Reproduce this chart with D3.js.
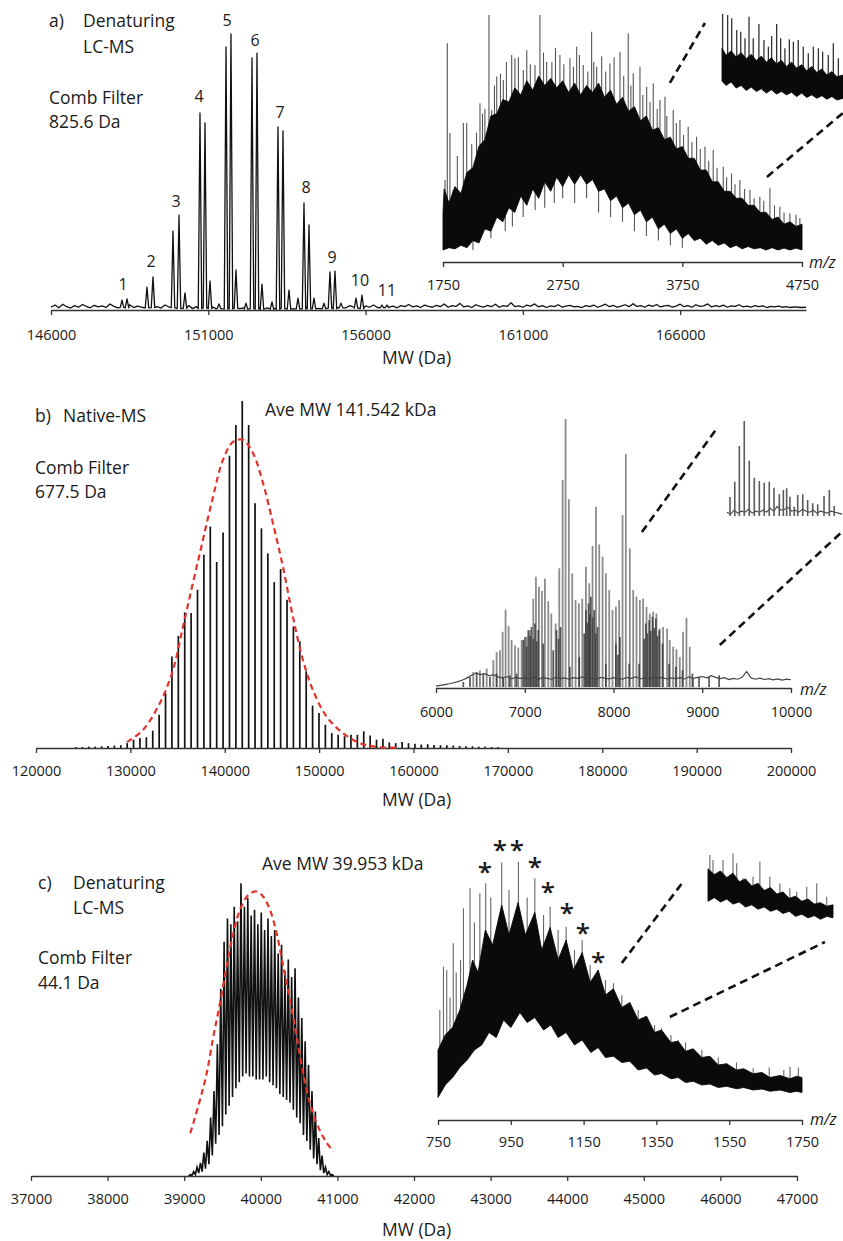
<!DOCTYPE html>
<html><head><meta charset="utf-8">
<script src="https://cdn.jsdelivr.net/npm/d3@7"></script>
<style>
body{margin:0;background:#fff;}
text{font-family:"Open Sans",sans-serif;fill:#1a1a1a;}
</style></head><body>
<script>
// ---------------- DATA ----------------
// Panel a (denaturing LC-MS, deconvoluted)
const aTicks=[146000,151000,156000,161000,166000];
const aNoiseStart=146000, aNoiseStep=125;
const aNoise=[1.0,1.8,0.8,2.1,1.2,0.7,1.6,1.0,2.0,1.3,
0.8,1.7,1.1,1.5,0.9,2.2,1.3,0.8,1.6,1.1,
1.9,0.9,1.4,1.0,1.7,0.8,1.5,1.2,0.7,1.8,
1.1,1.4,0.6,1.3,0.9,1.6,0.5,1.2,0.8,1.4,
0.6,1.1,0.5,1.0,0.4,0.9,0.6,1.2,0.5,0.8,
0.4,0.9,0.5,0.7,0.3,0.8,0.5,0.6,0.4,0.9,
0.5,0.7,0.4,0.8,0.5,1.0,0.4,0.7,0.6,0.9,
0.5,1.1,0.7,0.9,1.4,0.8,1.6,1.0,1.3,0.8,
1.5,1.0,1.8,0.9,1.3,1.7,1.0,1.4,0.8,1.6,
1.2,2.0,1.1,1.5,0.9,1.8,1.3,1.0,1.7,1.2,
2.2,1.0,1.6,1.3,2.4,1.1,1.5,0.9,1.9,1.4,
1.0,1.7,1.2,2.1,1.0,1.6,1.3,2.6,1.2,1.5,
1.0,1.8,1.4,2.2,1.1,1.6,0.9,1.5,1.2,1.9,
1.0,1.4,1.7,1.1,1.3,0.9,1.6,1.2,1.8,1.0,
1.5,2.1,1.2,1.7,1.0,1.4,1.9,1.2,2.3,1.3,
1.6,1.0,1.8,1.3,2.0,1.1,1.5,1.7,1.0,1.4,
2.1,1.2,1.6,1.0,1.9,1.3,1.5,2.2,1.1,1.6,
1.2,1.8,1.0,1.5,1.3,1.9,1.1,1.4,1.0,1.6,
1.2,1.5,0.9,1.3,1.1,1.4,1.0,1.2,0.9,1.1,
1.0,0.9,1.0];
const aPeaks=[[148257,3.6],[148416,4],[149051,8.3],[149242,12],[149878,28.6],[150069,34.4],[150259,6.2],
[150736,71.4],[150895,67.8],[151054,10.5],[151340,2.2],[151563,95.3],[151721,100],[151880,14.5],[152198,2.5],
[152389,91.3],[152548,93.1],[152707,9.4],[153025,2.9],[153215,66.3],[153374,64.9],[153565,7.2],[153851,4.3],
[154042,38.8],[154201,30.8],[154360,4.3],[154678,2.5],[154868,13.8],[155027,14.1],[155218,2.5],
[155695,4.3],[155885,5.4],[156521,1.8],[156680,1.8]];
const aLabels=[["1",148289,7.2],["2",149179,15.6],["3",149973,37.3],["4",150704,75.4],["5",151594,102.9],
["6",152484,95.7],["7",153279,69.6],["8",154105,42.4],["9",154932,17],["10",155822,8.7],["11",156680,5.1]];
// Panel a inset (raw m/z spectrum)
const aInsetTicks=[1750,2750,3750,4750];
const aInsetUpper=[[1750,16],[1760,26],[1800,20],[1850,27],[1900,24],[1950,33],[2000,35],[2050,44],[2100,47],
[2150,57],[2200,58],[2250,64],[2300,63],[2350,69],[2400,66],[2450,72],[2500,68],[2550,74],[2600,70],[2650,73],
[2700,69],[2750,72],[2800,67],[2850,71],[2900,66],[2950,70],[3000,67],[3050,71],[3100,65],[3150,68],[3200,62],
[3250,65],[3300,59],[3350,61],[3400,55],[3450,57],[3500,51],[3550,52],[3600,47],[3650,48],[3700,43],[3750,44],
[3800,39],[3850,39],[3900,34],[3950,34],[4000,29],[4050,29],[4100,25],[4150,25],[4200,22],[4250,22],[4300,19],
[4350,19],[4400,16],[4450,16],[4500,13],[4550,14],[4600,11],[4650,12],[4700,10],[4750,11]];
const aInsetLower=[[1750,0],[1800,1],[1850,0.5],[1900,2],[1950,1],[2000,4],[2050,3],[2100,9],[2150,8],[2200,14],
[2250,12],[2300,18],[2350,16],[2400,23],[2450,19],[2500,26],[2550,22],[2600,29],[2650,25],[2700,31],[2750,27],
[2800,32],[2850,28],[2900,32],[2950,28],[3000,30],[3050,25],[3100,26],[3150,21],[3200,23],[3250,18],[3300,20],
[3350,15],[3400,17],[3450,12],[3500,14],[3550,9],[3600,11],[3650,7],[3700,9],[3750,5],[3800,7],[3850,4],
[3900,5],[3950,2.5],[4000,4],[4050,2],[4100,3],[4150,1],[4200,2],[4250,0.5],[4300,1.5],[4350,0.5],[4400,1],
[4450,0],[4500,1],[4550,0],[4600,0.8],[4650,0],[4700,0.8],[4750,0]];
const aInsetSpikes=[[1767,29.8],[1786,88],[1808,49.8],[1836,25.5],[1870,40],[1920,54],[1948,54],[1990,45],[2030,50],
[2059,62.5],[2080,58],[2100,60],[2134,100],[2157,59.6],[2180,70],[2199,73.8],[2230,75],[2254,72.3],[2280,80],
[2324,83],[2351,81.6],[2380,82],[2421,76.6],[2450,85],[2480,79],[2519,78.7],[2560,100],[2590,84],[2616,80.1],
[2660,80],[2690,86],[2727,83],[2760,79],[2811,81.6],[2840,78],[2867,86.5],[2890,83],[2922,78.7],[2960,76],
[2992,92.9],[3010,80],[3034,78],[3076,82.3],[3110,76],[3145,79.4],[3180,82],[3229,84.4],[3260,74],[3298,92.2],
[3320,70],[3340,75.2],[3396,78],[3420,66],[3452,69.5],[3480,63],[3507,70.9],[3540,60],[3563,63.8],[3605,65.2],
[3620,57],[3674,59.6],[3700,54],[3730,55.3],[3760,49],[3799,52.5],[3830,46],[3869,48.2],[3900,43],[3939,44],
[3970,38],[4008,42.6],[4040,35],[4092,35.4],[4120,31],[4161,32.6],[4190,28],[4231,29.8],[4270,26],[4315,25.5],
[4350,22],[4398,22.7],[4430,21],[4482,26.3],[4520,19],[4565,18.4],[4600,16],[4649,15.6],[4700,15],[4732,13.5]];
const aInsetDips=[[2000,0],[2150,5],[2270,8],[2330,10],[2420,14],[2520,17],[2600,18],[2680,20],[2750,22],
[2850,20],[2950,22],[3050,16],[3150,14],[3250,12],[3350,8],[3450,6],[3550,4],[3650,2],[3750,1]];
const aZoomLines=[[[3646,71.1],[3939,96.6]],[[4457,31.1],[5092,58.3]]];
// Panel a sub-inset (magnified region)
const aSubDomain=[3700,4300];
const aSubUpper=[[3700,60],[3720,52],[3745,57],[3770,50],[3795,55],[3820,48],[3845,53],[3870,46],[3895,51],[3920,44],
[3945,49],[3970,42],[3995,46],[4020,39],[4045,44],[4070,37],[4095,41],[4120,34],[4145,39],[4170,32],[4195,36],
[4220,29],[4245,33],[4270,27],[4300,29]];
const aSubLower=[[3700,22],[3720,17],[3745,21],[3770,14],[3795,17],[3820,11],[3845,15],[3870,10],[3895,13],[3920,8],
[3945,12],[3970,7],[3995,10],[4020,6],[4045,9],[4070,4],[4095,8],[4120,3],[4145,6],[4170,2],[4195,5],[4220,1],
[4245,4],[4270,0],[4300,2]];
const aSubSpikes=[[3703,100],[3728,98.8],[3748,95],[3773,81.4],[3793,79.5],[3814,71.7],[3834,96.9],[3855,71.7],
[3883,88.4],[3908,69.8],[3930,62],[3946,74.4],[3971,88.4],[3991,71.7],[4012,60.1],[4034,70.5],[4054,67.8],
[4078,69.8],[4103,62],[4128,54.3],[4153,62],[4178,60.1],[4199,56.2],[4227,52.3],[4252,65.9],[4277,48.5]];

// Panel b (native MS)
const bTicks=[120000,130000,140000,150000,160000,170000,180000,190000,200000];
const bSpikes=[[124240,0.3],[124918,0.3],[125595,0.4],[126273,0.4],[126950,0.5],[127628,0.6],[128305,0.7],
[128983,0.8],[129660,1.4],[130338,2.4],[131015,2.9],[131693,3.1],[132370,5.0],[133048,9.6],[133725,15.8],
[134403,26.4],[135080,32.3],[135758,39.1],[136435,38.9],[137113,45.6],[137790,55.7],[138468,63.8],[139145,53.6],
[139823,62.1],[140500,84.2],[141178,93.1],[141855,100],[142533,93.1],[143210,70.5],[143888,63.3],[144565,56.1],
[145243,47.8],[145920,51.6],[146598,42.7],[147275,35.0],[147953,30.7],[148630,22.1],[149308,12.2],[149985,10.1],
[150663,6.7],[151340,4.3],[152018,3.8],[152695,3.4],[153373,3.8],[154050,3.8],[154728,4.8],[155405,3.6],
[156083,2.4],[156760,2.7],[157438,1.6],[158115,1.4],[158793,1.7],[159470,1.4],[160148,1.2],[160825,1.0],
[161503,1.1],[162180,0.9],[162858,0.8],[163535,0.8],[164213,0.7],[164890,0.6],[165568,0.5],[166245,0.5],
[166923,0.4],[167600,0.4],[168278,0.3],[168955,0.3]];
const bFit=[[129640,1.7],[131335,5.2],[133136,13.0],[134513,22.5],[135572,34.9],[136631,47.6],[137691,60.0],
[138750,72.3],[139809,83.0],[140869,88.2],[141928,88.8],[142987,85.0],[144047,76.4],[145106,64.8],[146165,52.2],
[147225,37.8],[148284,25.4],[149343,16.7],[150826,8.9],[152521,4.3],[154322,1.4],[156123,0.3],[158560,0.1]];
// Panel b inset
const bInsetTicks=[6000,7000,8000,9000,10000];
const bNoiseStart=6000, bNoiseStep=50;
const bNoise=[0.3,0.6,0.9,1.2,1.6,2.0,2.6,3.4,4.4,5.2,
4.6,5.0,4.2,4.6,3.8,3.4,3.9,3.0,3.6,3.2,
3.4,3.0,3.8,2.8,3.5,3.2,2.9,3.6,3.1,3.4,
2.9,3.5,3.2,3.8,3.0,3.4,2.8,3.6,3.3,3.0,
3.5,3.1,2.9,3.6,3.2,3.8,3.0,3.4,3.1,3.7,
3.2,3.6,3.0,3.4,3.1,3.5,3.0,3.8,3.2,3.6,
3.9,3.4,4.2,3.6,3.1,3.5,2.8,3.2,2.9,3.6,
5.8,3.4,2.9,3.3,2.8,3.1,2.7,3.0,2.6,2.9,2.7];
const bLight=[[6420,5.6],[6495,6.2],[6571,6.9],[6646,10],[6683,13],[6721,13.7],[6751,20.6],[6784,28.9],[6818,22.7],
[6852,17.5],[6890,15.6],[6927,14.7],[6965,17.5],[7021,18.7],[7058,21.2],[7096,33],[7126,41.1],[7160,37.4],
[7194,35.8],[7227,40.5],[7265,32],[7299,27.4],[7348,23.7],[7389,44.3],[7427,77.3],[7460,100],[7497,70.1],
[7535,42.4],[7573,32.4],[7610,31.2],[7648,33],[7689,44.9],[7727,38.7],[7764,52.6],[7802,67.3],[7839,53.2],
[7877,48.6],[7914,42.4],[7952,36.2],[7989,28.7],[8027,30],[8064,32.4],[8102,64.2],[8139,86.9],[8184,51.7],
[8222,36.2],[8259,33.7],[8297,32.4],[8334,33],[8372,29.9],[8409,27.4],[8447,28.1],[8484,27.4],[8522,21.8],
[8559,22.4],[8604,21.8],[8634,17.5],[8672,15],[8709,14.1],[8747,11.2],[8784,20.6],[8822,25.8],[8859,15],[8897,3]];
const bDark=[[6308,1.9],[6383,3.7],[6458,5.6],[6533,5],[6608,3.7],[6683,5],[6758,3.7],[6833,4.4],[6908,5],
[6983,17.5],[7002,18.7],[7021,15],[7040,21.2],[7060,19],[7077,22.4],[7096,18],[7115,23.7],[7135,17],[7152,21.2],
[7208,16.2],[7321,13.7],[7358,21.2],[7380,18],[7403,22.4],[7508,7.5],[7614,11.2],[7670,20],[7689,28.7],
[7705,24],[7719,31.2],[7732,27],[7745,33.7],[7765,26],[7783,28.7],[7800,20],[7820,22.4],[7914,8.7],
[8027,16.2],[8050,12],[8072,18.7],[8177,8.7],[8289,8.7],[8345,18],[8364,23.7],[8383,20],[8402,24.9],[8420,21],
[8439,26.2],[8458,22],[8477,25.6],[8495,19],[8514,21.2],[8552,16.2],[8627,8.7],[8702,7.5],[8777,6.2],[8889,5],
[8964,3.7],[9077,3.7],[9190,4.4]];
const bZoomLines=[[[8320,57.8],[9176,97]],[[9198,15.7],[10572,57.8]]];
// Panel b sub-inset
const bSubDomain=[9100,9900];
const bSubSpikes=[[9121,21.6],[9154,37.4],[9186,74.2],[9220,100],[9255,59.1],[9290,41.5],[9325,38.1],[9359,36.4],
[9394,37.4],[9427,31.2],[9464,24.7],[9492,28.9],[9515,30.6],[9538,22],[9568,11.6],[9592,23.7],[9627,24.4],
[9661,18.6],[9696,15.2],[9731,14.1],[9775,22.7],[9812,28.9],[9846,12.4]];
const bSubNoiseStart=9100, bSubNoiseStep=25;
const bSubNoise=[6,4,8,5,7,6,9,5,7,6,8,6,10,7,12,8,9,11,7,8,6,9,7,6,8,5,7,6,5,7,6,5,4];

// Panel c (denaturing LC-MS, 40 kDa)
const cTicks=[37000,38000,39000,40000,41000,42000,43000,44000,45000,46000,47000];
const cCombMW=[39080,39124,39168,39212,39256,39300,39345,39389,39433,39477,39521,39565,39609,39653,39697,
39741,39786,39830,39874,39918,39962,40006,40050,40094,40138,40182,40227,40271,40315,40359,40403,40447,40491,
40535,40579,40623,40668,40712,40756,40800,40844,40888,40932];
const cCombTop=[0.5,1.5,3,4.5,8,12,20,29,45,64,80,88,86,92,87,100,92,95,89,91,86,90,84,88,82,84,76,79,70,74,
68,71,61,54,46,38,29,22,13,7,3,1.5,0.5];
const cValley=[0.2,0.5,1,1.5,2.5,4,7,11,14,17,21,24,27,30,32,34,35,34,34,33,33,33,34,32,31,30,28,27,26,25,
22.6,20,18,14,12,9,6,4,2,1,0.5,0.2];
const cFit=[[39080,14.6],[39206,26],[39293,35],[39380,47.6],[39467,59],[39554,71.5],[39641,82.9],[39728,90.9],
[39837,96],[39946,97.2],[40033,95.4],[40120,90.9],[40207,82.9],[40294,71.5],[40381,60.1],[40468,47.6],
[40555,35],[40642,24.8],[40729,18],[40838,12.3],[40947,8.3]];
// Panel c inset
const cInsetTicks=[750,950,1150,1350,1550,1750];
const cInsetUpper=[[750,24],[770,30],[790,33],[810,40],[830,50],[845,60],[860,55],[880,72],[900,66],[925,82],
[945,70],[970,83],[990,70],[1016,79],[1035,64],[1058,73],[1080,60],[1102,68],[1122,56],[1146,63],[1168,51],
[1190,56],[1210,46],[1232,48.5],[1255,41],[1277,43],[1300,36],[1323,37.5],[1345,31],[1364,32],[1390,27],
[1410,27.5],[1430,23.5],[1451,24.5],[1475,21],[1497,21.5],[1520,18],[1543,18.5],[1570,16],[1590,16.5],
[1616,14.5],[1640,15],[1662,13],[1690,13.8],[1717,12.5],[1735,13.5],[1750,13]];
const cInsetLower=[[750,5],[770,10],[790,13],[810,17],[830,20],[850,24],[870,26],[890,31],[910,29],[930,36],
[950,33],[975,39],[995,35],[1016,37],[1040,32],[1060,34],[1080,29],[1102,31],[1125,26],[1146,28],[1170,23],
[1190,25],[1210,21],[1232,21.5],[1255,19],[1277,19.5],[1300,16],[1323,16.8],[1345,14],[1364,14.6],[1390,12.5],
[1410,13],[1430,11],[1451,11.5],[1475,10],[1497,10.4],[1520,9],[1543,9.5],[1570,8.5],[1590,9],[1616,8],[1640,8.4],
[1662,7.5],[1690,8],[1717,7],[1735,7.5],[1750,7]];
const cInsetSpikes=[[755,40],[765,57.3],[774,56],[783,45],[792,66.7],[800,55],[812,60],[820,80.7],[838,88.7],
[850,75],[865,86.7],[881,90.7],[895,85],[925,99],[945,88],[971,99.3],[995,85],[1016,92.7],[1040,78],[1058,81.3],
[1080,72],[1102,73.3],[1125,64],[1146,68],[1168,58],[1190,54.7],[1210,52],[1232,50.7],[1255,46],[1277,42.7],
[1300,40],[1323,37.3],[1345,34],[1364,32.7],[1390,30],[1410,28],[1430,27],[1451,24],[1475,24],[1497,21.3],
[1520,21],[1543,18.7],[1570,19],[1616,16.7],[1660,17],[1700,16],[1717,17.3],[1740,17]];
const cStars=[[879,97.2],[920,106],[967,106],[1016,99.2],[1052,89.2],[1104,80.8],[1148,72.8],[1190,61.2]];
const cZoomLines=[[[1255,58.8],[1423,91.2]],[[1387,37.2],[1813,67.2]]];
// Panel c sub-inset
const cSubDomain=[1250,1450];
const cSubUpper=[[1250,78],[1260,70],[1270,75],[1280,66],[1290,72],[1300,60],[1310,64],[1320,54],[1330,58],[1340,48],
[1350,52],[1360,43],[1370,46],[1380,37],[1390,40],[1400,33],[1410,36],[1420,29],[1430,31],[1440,26],[1450,28]];
const cSubLower=[[1250,33],[1260,38],[1270,32],[1280,36],[1290,29],[1300,32],[1310,25],[1320,28],[1330,22],[1340,25],
[1350,19],[1360,22],[1370,16],[1380,19],[1390,12],[1400,15],[1410,10],[1420,13],[1430,8],[1440,12],[1450,10]];
const cSubSpikes=[[1253,97.2],[1258,90.3],[1274,90.3],[1290,99.6],[1296,85.7],[1306,64.9],[1322,67.1],[1333,87.9],
[1349,67.1],[1365,57.9],[1381,51],[1392,46.3],[1408,53.2],[1424,57.9],[1440,39.3]];

// ---------------- DRAWING ----------------
const svg=d3.select("body").append("svg").attr("width",843).attr("height",1241);
svg.append("rect").attr("width",843).attr("height",1241).attr("fill","#fff");

function interp(arr,x){
  const i=d3.bisector(d=>d[0]).left(arr,x);
  if(i<=0) return arr[0][1];
  if(i>=arr.length) return arr[arr.length-1][1];
  const a=arr[i-1],b=arr[i];
  return a[1]+(x-a[0])/(b[0]-a[0])*(b[1]-a[1]);
}
function axis(scale,ticks,y,pad){
  const ax=d3.axisBottom(scale).tickValues(ticks).tickSize(5).tickSizeOuter(0).tickPadding(pad).tickFormat(d=>String(d));
  const a=svg.append("g").attr("transform",`translate(0,${y})`).call(ax);
  a.select(".domain").attr("stroke","#333").attr("stroke-width",1.3);
  a.selectAll(".tick line").attr("stroke","#333").attr("stroke-width",1.3);
  a.selectAll(".tick text").attr("font-size",14.5).attr("fill","#1a1a1a");
  return a;
}
function txt(x,y,s,size,opts={}){
  const t=svg.append("text").attr("x",x).attr("y",y).attr("font-size",size).text(s);
  if(opts.anchor) t.attr("text-anchor",opts.anchor);
  if(opts.italic) t.attr("font-style","italic");
  if(opts.weight) t.attr("font-weight",opts.weight);
  return t;
}
const line=d3.line();
function dense(xs,ys,upper,lower,spikes,spColor,spW,dips){
  const pts=upper.map(d=>[xs(d[0]),ys(d[1])]).concat(lower.slice().reverse().map(d=>[xs(d[0]),ys(d[1])]));
  svg.append("g").selectAll("line").data(spikes).join("line")
    .attr("x1",d=>xs(d[0])).attr("x2",d=>xs(d[0]))
    .attr("y1",d=>ys(interp(upper,d[0]))+2).attr("y2",d=>ys(d[1]))
    .attr("stroke",spColor).attr("stroke-width",spW);
  if(dips) svg.append("g").selectAll("line").data(dips).join("line")
    .attr("x1",d=>xs(d[0])).attr("x2",d=>xs(d[0]))
    .attr("y1",d=>ys(interp(lower,d[0]))-2).attr("y2",d=>ys(d[1]))
    .attr("stroke",spColor).attr("stroke-width",spW);
  svg.append("path").attr("d",line(pts)+"Z").attr("fill","#0a0a0a").attr("stroke","#0a0a0a").attr("stroke-width",0.9).attr("stroke-linejoin","miter");
}
function zoomLines(xs,ys,lines){
  svg.append("g").selectAll("line").data(lines).join("line")
    .attr("x1",d=>xs(d[0][0])).attr("y1",d=>ys(d[0][1]))
    .attr("x2",d=>xs(d[1][0])).attr("y2",d=>ys(d[1][1]))
    .attr("stroke","#111").attr("stroke-width",2.6).attr("stroke-dasharray","8,5");
}
function fit(xs,ys,pts){
  svg.append("path").attr("d",d3.line().curve(d3.curveCatmullRom).x(d=>xs(d[0])).y(d=>ys(d[1]))(pts))
    .attr("fill","none").attr("stroke","#e3342b").attr("stroke-width",2.2).attr("stroke-dasharray","6,4");
}

// ===== Panel a main =====
{
  const x=d3.scaleLinear().domain([146000,170000]).range([51,806]);
  const y=d3.scaleLinear().domain([0,100]).range([310,34]);
  const noisePts=aNoise.map((v,i)=>[aNoiseStart+i*aNoiseStep,v]);
  const hw=55;
  let pts=noisePts.filter(p=>!aPeaks.some(pk=>Math.abs(pk[0]-p[0])<hw*1.2));
  aPeaks.forEach(pk=>{
    const b=interp(noisePts,pk[0]);
    pts.push([pk[0]-hw,b*0.6],[pk[0],pk[1]],[pk[0]+hw,b*0.6]);
  });
  pts.sort((a,b)=>a[0]-b[0]);
  svg.append("path").attr("d",d3.line().x(d=>x(d[0])).y(d=>y(d[1]))(pts))
    .attr("fill","none").attr("stroke","#111").attr("stroke-width",1.3).attr("stroke-linejoin","round");
  axis(x,aTicks,310,14.5);
  aLabels.forEach(l=>txt(x(l[1]),y(l[2]),l[0],16,{anchor:"middle"}));
  txt(49,27,"a)",17.5); txt(83,27,"Denaturing",17.5); txt(83,53,"LC-MS",17.5);
  txt(49,104,"Comb Filter",17.5); txt(49,128,"825.6 Da",17.5);
  txt(382,364,"MW (Da)",17.5);
}
// ===== Panel a inset =====
{
  const x=d3.scaleLinear().domain([1750,4750]).range([443,802]);
  const y=d3.scaleLinear().domain([0,100]).range([250,15]);
  dense(x,y,aInsetUpper,aInsetLower,aInsetSpikes,"#555",1.1,aInsetDips);
  axis(x,aInsetTicks,262,12.7);
  txt(809,268,"m/z",16,{italic:true});
  zoomLines(x,y,aZoomLines);
  const xs=d3.scaleLinear().domain(aSubDomain).range([722,843]);
  const ys=d3.scaleLinear().domain([0,100]).range([100,14]);
  dense(xs,ys,aSubUpper,aSubLower,aSubSpikes,"#333",1.3);
}
// ===== Panel b main =====
{
  const x=d3.scaleLinear().domain([120000,200000]).range([36,791]);
  const y=d3.scaleLinear().domain([0,100]).range([748,401]);
  svg.append("g").selectAll("line").data(bSpikes).join("line")
    .attr("x1",d=>x(d[0])).attr("x2",d=>x(d[0])).attr("y1",y(0)).attr("y2",d=>y(d[1]))
    .attr("stroke","#111").attr("stroke-width",1.7);
  axis(x,bTicks,748,12.7);
  fit(x,y,bFit);
  txt(35,422,"b)",17.5); txt(63,422,"Native-MS",17.5);
  txt(35,474,"Comb Filter",17.5); txt(35,498,"677.5 Da",17.5);
  txt(265,416,"Ave MW 141.542 kDa",17.5);
  txt(382,806,"MW (Da)",17.5);
}
// ===== Panel b inset =====
{
  const x=d3.scaleLinear().domain([6000,10000]).range([436,791]);
  const y=d3.scaleLinear().domain([0,100]).range([687,419]);
  svg.append("g").selectAll("line").data(bLight).join("line")
    .attr("x1",d=>x(d[0])).attr("x2",d=>x(d[0])).attr("y1",y(0)).attr("y2",d=>y(d[1]))
    .attr("stroke","#8c8c8c").attr("stroke-width",1.8);
  svg.append("g").selectAll("line").data(bDark).join("line")
    .attr("x1",d=>x(d[0])).attr("x2",d=>x(d[0])).attr("y1",y(0)).attr("y2",d=>y(d[1]))
    .attr("stroke","#3a3a3a").attr("stroke-width",1.7).attr("opacity",0.85);
  svg.append("path").attr("d",d3.line().x((d,i)=>x(bNoiseStart+i*bNoiseStep)).y(d=>y(d))(bNoise))
    .attr("fill","none").attr("stroke","#444").attr("stroke-width",1.2);
  axis(x,bInsetTicks,688,13.7);
  txt(800,695,"m/z",16,{italic:true});
  zoomLines(x,y,bZoomLines);
  const xs=d3.scaleLinear().domain(bSubDomain).range([727,842]);
  const ys=d3.scaleLinear().domain([0,100]).range([518,421]);
  svg.append("path").attr("d",d3.line().x((d,i)=>xs(bSubNoiseStart+i*bSubNoiseStep)).y(d=>ys(d))(bSubNoise))
    .attr("fill","none").attr("stroke","#444").attr("stroke-width",1.1);
  svg.append("g").selectAll("line").data(bSubSpikes).join("line")
    .attr("x1",d=>xs(d[0])).attr("x2",d=>xs(d[0])).attr("y1",ys(2)).attr("y2",d=>ys(d[1]))
    .attr("stroke","#5a5a5a").attr("stroke-width",1.6);
}
// ===== Panel c main =====
{
  const x=d3.scaleLinear().domain([37000,47000]).range([31,797]);
  const y=d3.scaleLinear().domain([0,100]).range([1176,883.3]);
  const pts=[[cCombMW[0]-22,0]];
  cCombMW.forEach((m,i)=>{
    pts.push([m,cCombTop[i]]);
    if(i<cValley.length) pts.push([(m+cCombMW[i+1])/2,cValley[i]]);
  });
  pts.push([cCombMW[cCombMW.length-1]+22,0]);
  svg.append("path").attr("d",d3.line().x(d=>x(d[0])).y(d=>y(d[1]))(pts))
    .attr("fill","none").attr("stroke","#111").attr("stroke-width",1.6).attr("stroke-linejoin","miter");
  axis(x,cTicks,1176,12.7);
  fit(x,y,cFit);
  txt(38,889,"c)",17.5); txt(73,889,"Denaturing",17.5); txt(73,914,"LC-MS",17.5);
  txt(38,964,"Comb Filter",17.5); txt(38,989,"44.1 Da",17.5);
  txt(262,870,"Ave MW 39.953 kDa",17.5);
  txt(382,1236,"MW (Da)",17.5);
}
// ===== Panel c inset =====
{
  const x=d3.scaleLinear().domain([750,1750]).range([438,802]);
  const y=d3.scaleLinear().domain([0,100]).range([1110,860]);
  dense(x,y,cInsetUpper,cInsetLower,cInsetSpikes,"#666",1.1);
  axis(x,cInsetTicks,1120,11.7);
  txt(810,1125,"m/z",16,{italic:true});
  svg.append("g").selectAll("text").data(cStars).join("text")
    .attr("x",d=>x(d[0])).attr("y",d=>y(d[1])+14).attr("text-anchor","middle")
    .attr("font-size",26).attr("font-weight",600).text("*");
  zoomLines(x,y,cZoomLines);
  const xs=d3.scaleLinear().domain(cSubDomain).range([708,833]);
  const ys=d3.scaleLinear().domain([0,100]).range([925,853]);
  dense(xs,ys,cSubUpper,cSubLower,cSubSpikes,"#666",1.1);
}
</script></body></html>
